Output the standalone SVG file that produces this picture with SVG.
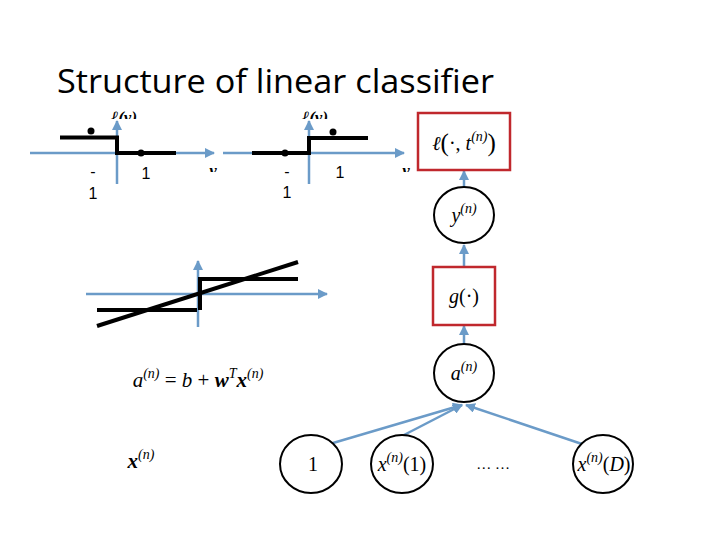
<svg xmlns="http://www.w3.org/2000/svg" width="720" height="540" viewBox="0 0 720 540">
<defs>
<marker id="ah" viewBox="0 0 10 10" refX="9" refY="5" markerWidth="4" markerHeight="4" orient="auto"><path d="M0,0 L10,5 L0,10 z" fill="#6b9bc8"/></marker>
<clipPath id="c1"><rect x="100" y="105" width="40" height="14"/></clipPath>
<clipPath id="c2"><rect x="290" y="105" width="40" height="14"/></clipPath>
<clipPath id="c3"><rect x="195" y="160" width="30" height="12"/></clipPath>
<clipPath id="c4"><rect x="395" y="160" width="30" height="12"/></clipPath>
</defs>
<style>
.title{font-family:"Open Sans","Liberation Sans",sans-serif;font-size:32px;fill:#000}
.ax{stroke:#6b9bc8;stroke-width:2.5;fill:none}
.blk{stroke:#000;stroke-width:4;fill:none}
.lbl{font-family:"Liberation Sans",sans-serif;font-size:16px;fill:#000;text-anchor:middle}
.m{font-family:"Liberation Serif","DejaVu Serif",serif;font-style:italic;font-size:20px;fill:#000;text-anchor:middle}
.mb{font-family:"Liberation Serif","DejaVu Serif",serif;font-style:italic;font-weight:bold;font-size:17px;fill:#000;text-anchor:middle}
.sup{font-size:14px}
.up{font-style:normal}
.node{fill:#fff;stroke:#000;stroke-width:2}
.box{fill:#fff;stroke:#c0282d;stroke-width:2.5}
.conn{stroke:#6b9bc8;stroke-width:2.5;fill:none;marker-end:url(#ah)}
</style>
<rect width="720" height="540" fill="#fff"/>
<text class="title" x="57" y="93" textLength="437" lengthAdjust="spacingAndGlyphs">Structure of linear classifier</text>

<g id="plot1">
<line class="ax" x1="30" y1="153" x2="214" y2="153" marker-end="url(#ah)"/>
<line class="ax" x1="117" y1="184" x2="117" y2="121" marker-end="url(#ah)"/>
<path class="blk" d="M60,137.5 H117 V153 H176"/>
<circle cx="91" cy="131" r="3.5" fill="#000"/>
<circle cx="141" cy="153" r="3.5" fill="#000"/>
<text class="mb" x="124" y="123" clip-path="url(#c1)">ℓ(y)</text>
<text class="mb" x="213" y="176" clip-path="url(#c3)">y</text>
<text class="lbl" x="93" y="177">-</text>
<text class="lbl" x="93" y="199">1</text>
<text class="lbl" x="146" y="179">1</text>
</g>

<g id="plot2">
<line class="ax" x1="223" y1="153" x2="404" y2="153" marker-end="url(#ah)"/>
<line class="ax" x1="309" y1="184" x2="309" y2="121" marker-end="url(#ah)"/>
<path class="blk" d="M252,153 H309 V138 H368"/>
<circle cx="285" cy="153" r="3.5" fill="#000"/>
<circle cx="333" cy="132" r="3.5" fill="#000"/>
<text class="mb" x="315" y="123" clip-path="url(#c2)">ℓ(y)</text>
<text class="mb" x="406" y="176" clip-path="url(#c4)">y</text>
<text class="lbl" x="287" y="177">-</text>
<text class="lbl" x="287" y="198">1</text>
<text class="lbl" x="340" y="178">1</text>
</g>

<g id="plot3">
<line class="ax" x1="86" y1="294" x2="327" y2="294" marker-end="url(#ah)"/>
<line class="ax" x1="198" y1="327" x2="198" y2="261" marker-end="url(#ah)"/>
<path class="blk" d="M97,310 H197 M200,310 V279 H298"/>
<line class="blk" x1="97" y1="326" x2="298" y2="262"/>
</g>

<g id="formula">
<text class="m" x="198" y="387" style="font-size:21px"><tspan>a</tspan><tspan class="sup" dy="-9">(n)</tspan><tspan class="up" dy="9"> = </tspan><tspan>b</tspan><tspan class="up"> + </tspan><tspan font-weight="bold">w</tspan><tspan class="sup" dy="-9">T</tspan><tspan dy="9" font-weight="bold">x</tspan><tspan class="sup" dy="-9">(n)</tspan></text>
<text class="m" x="141" y="468" style="font-size:21px"><tspan font-weight="bold">x</tspan><tspan class="sup" dy="-9">(n)</tspan></text>
</g>

<g id="connectors">
<line class="conn" x1="464" y1="187" x2="464" y2="171"/>
<line class="conn" x1="464" y1="267" x2="464" y2="245"/>
<line class="conn" x1="464" y1="344" x2="464" y2="326"/>
<line class="conn" x1="333" y1="443" x2="462" y2="405"/>
<line class="conn" x1="402" y1="436" x2="462" y2="405"/>
<line class="conn" x1="582" y1="444" x2="466" y2="405"/>
</g>

<g id="loss">
<rect class="box" x="418" y="113" width="92" height="57"/>
<text class="m" x="464" y="150"><tspan>ℓ</tspan><tspan class="up" font-size="25" dy="1">(</tspan><tspan class="up" dy="-1">·, </tspan><tspan>t</tspan><tspan class="sup" dy="-9">(n)</tspan><tspan class="up" font-size="25" dy="10">)</tspan></text>
</g>
<g id="y">
<ellipse class="node" cx="464" cy="215" rx="30" ry="28"/>
<text class="m" x="464" y="222"><tspan>y</tspan><tspan class="sup" dy="-9">(n)</tspan></text>
</g>
<g id="g">
<rect class="box" x="433" y="267" width="62" height="58"/>
<text class="m" x="464" y="303"><tspan>g</tspan><tspan class="up">(·)</tspan></text>
</g>
<g id="a">
<ellipse class="node" cx="464" cy="373" rx="30" ry="29"/>
<text class="m" x="464" y="380"><tspan>a</tspan><tspan class="sup" dy="-9">(n)</tspan></text>
</g>
<g id="one">
<ellipse class="node" cx="311" cy="464" rx="31" ry="29"/>
<text class="m" x="313" y="471" style="font-style:normal">1</text>
</g>
<g id="x1">
<ellipse class="node" cx="402" cy="464" rx="31" ry="29"/>
<text class="m" x="402" y="471"><tspan>x</tspan><tspan class="sup" dy="-9">(n)</tspan><tspan class="up" dy="9">(1)</tspan></text>
</g>
<g id="dots">
<text class="m" x="493" y="469" style="font-style:normal;font-size:15px">… …</text>
</g>
<g id="xD">
<ellipse class="node" cx="603" cy="464" rx="30" ry="29"/>
<text class="m" x="604" y="471"><tspan>x</tspan><tspan class="sup" dy="-9">(n)</tspan><tspan class="up" dy="9">(</tspan><tspan>D</tspan><tspan class="up">)</tspan></text>
</g>
</svg>
